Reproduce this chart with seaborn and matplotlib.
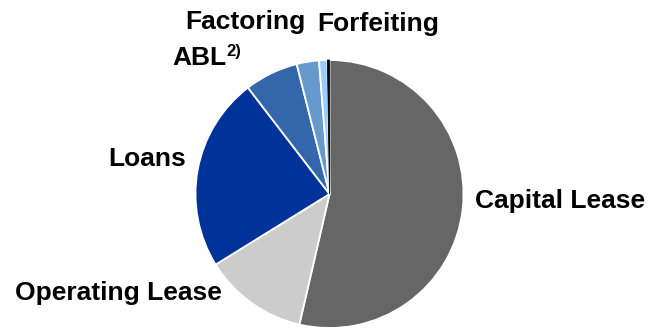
import matplotlib
matplotlib.use("Agg")
import matplotlib.pyplot as plt
import seaborn as sns

sns.set_theme(style="white")
plt.rcParams['font.family'] = ['Liberation Sans', 'DejaVu Sans']

categories = ["Capital Lease", "Operating Lease", "Loans", "Factoring", "ABL", "Forfeiting", "Other"]
shares = [53.8, 12.6, 23.5, 6.5, 2.7, 1.0, 0.25]
colors = ["#666666", "#CCCCCC", "#003399", "#3366AA", "#6699CC", "#99CCFF", "#000000"]

W, H = 648, 329
fig = plt.figure(figsize=(W / 100, H / 100), dpi=100)
ax = fig.add_axes([0, 0, 1, 1])

wedges, _ = ax.pie(shares, colors=colors, startangle=90, counterclock=False,
                   center=(329.5, H - 194), radius=134,
                   wedgeprops=dict(edgecolor='white', linewidth=1.3))
wedges[-1].set_edgecolor('black')
wedges[-1].set_linewidth(0.6)
wedges[-1].set_zorder(5)

ax.set_xlim(0, W)
ax.set_ylim(0, H)
ax.set_aspect('equal')
ax.axis('off')

fs = 19
def lab(x, y_baseline_px, s, size=fs):
    ax.text(x, H - y_baseline_px, s, fontsize=size, fontweight='bold',
            color='black', ha='left', va='baseline')

lab(475, 208, "Capital Lease")
lab(15, 300, "Operating Lease")
lab(108, 166, "Loans")
lab(185, 29, "Factoring")
lab(317, 31, "Forfeiting")
lab(172, 65, "ABL")
lab(226, 56, "2)", size=12)

fig.savefig("out.png", dpi=100)
